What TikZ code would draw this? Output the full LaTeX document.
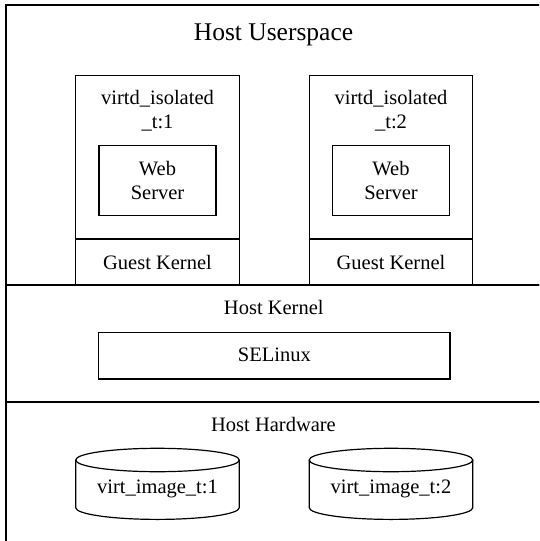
\documentclass[tikz,border=0pt]{standalone}
\usepackage{fontspec}
\setmainfont{Liberation Serif}
\usetikzlibrary{positioning}

\begin{document}
\begin{tikzpicture}[x=1pt, y=-1pt, line width=1.2pt,
    box/.style={draw, rectangle, inner sep=0pt, outer sep=0pt},
    lbl/.style={font=\fontsize{20.5}{23.5}\selectfont, align=center, inner sep=0pt},
    biglbl/.style={font=\fontsize{25.5}{30}\selectfont, inner sep=0pt}]
    % Parameters
    \def\vmW{163.6}   % guest machine width
    \def\rx{81.8}     % disk half width
    \def\ry{11.7}     % disk ellipse height

    % Page (right and bottom edges run off it)
    \clip (0,0) rectangle (539,541);

    % Layers
    \node[box, anchor=north west, minimum width=540pt, minimum height=280pt] (user) at (6,5) {};
    \node[box, anchor=north west, minimum width=540pt, minimum height=117pt] (kernel) at (6,285) {};
    \node[box, anchor=north west, minimum width=540pt, minimum height=146pt] (hw) at (6,402) {};

    \node[biglbl, anchor=base] (usertitle) at (273.5,40) {Host Userspace};
    \node[lbl, anchor=base] (kerneltitle) at (273.8,314) {Host Kernel};
    \node[lbl, anchor=base] (hwtitle) at (273.5,431.7) {Host Hardware};

    % Guest machines (base of a two-line label = its last line)
    \foreach \n/\cx in {1/157.5, 2/391} {
        \node[box, anchor=north, minimum width=\vmW pt, minimum height=163.3pt] (vm\n) at (\cx,75.7) {};
        \node[box, anchor=north, minimum width=\vmW pt, minimum height=46pt] (gk\n) at (\cx,239) {};
        \node[lbl, anchor=base] (gktext\n) at (\cx,269.3) {Guest Kernel};
        \node[lbl, anchor=base] (vmtext\n) at (\cx,128.3) {virtd\_isolated\\\_t:\n};
        \node[box, minimum width=117pt, minimum height=70pt] (web\n) at (\cx,180.7) {};
        \node[lbl, anchor=base] (webtext\n) at (\cx,199) {Web\\Server};
    }

    % SELinux
    \node[box, minimum width=351.3pt, minimum height=46.7pt] (selinux) at (274.4,355.7) {};
    \node[lbl, anchor=base] (setext) at (274.4,361.7) {SELinux};

    % Disk images
    \foreach \n/\cx in {1/157.5, 2/391} {
        \draw ({\cx-\rx},460) -- ({\cx-\rx},507.7)
            arc[start angle=180, end angle=0, x radius=\rx, y radius=\ry] -- ({\cx+\rx},460);
        \draw (\cx,460) ellipse[x radius=\rx, y radius=\ry];
        \node[lbl, anchor=base] (img\n) at (\cx,493.3) {virt\_image\_t:\n};
    }
\end{tikzpicture}
\end{document}
